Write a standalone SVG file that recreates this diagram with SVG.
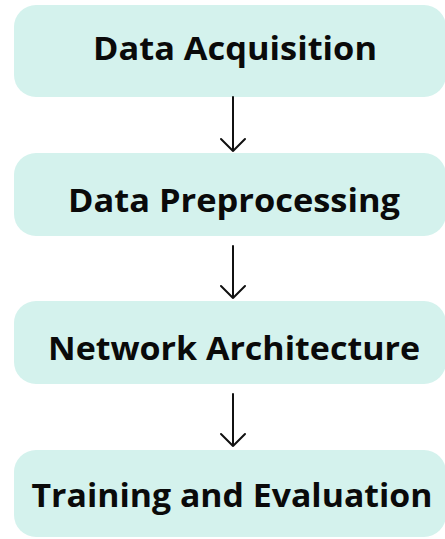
<svg xmlns="http://www.w3.org/2000/svg" width="445" height="539" viewBox="0 0 445 539">
<style>
.box{fill:#d4f2ed}
.lbl{font-family:"Open Sans","Liberation Sans",sans-serif;font-weight:700;font-size:32px;fill:#0a0a0a;text-anchor:middle}
.conn{stroke:#111;stroke-width:2;fill:none;stroke-linecap:round;stroke-linejoin:round}
</style>
<rect width="445" height="539" fill="#fff"/>
<g id="node1"><rect class="box" x="14" y="5" width="432" height="92" rx="22"/><text class="lbl" x="235" y="60" textLength="284" lengthAdjust="spacingAndGlyphs">Data Acquisition</text></g>
<g id="node2"><rect class="box" x="14" y="153" width="432" height="83" rx="22"/><text class="lbl" x="234" y="212" textLength="332" lengthAdjust="spacingAndGlyphs">Data Preprocessing</text></g>
<g id="node3"><rect class="box" x="14" y="301" width="432" height="83" rx="22"/><text class="lbl" x="234" y="360" textLength="372" lengthAdjust="spacingAndGlyphs">Network Architecture</text></g>
<g id="node4"><rect class="box" x="14" y="450" width="432" height="87" rx="22"/><text class="lbl" x="232" y="507" textLength="401" lengthAdjust="spacingAndGlyphs">Training and Evaluation</text></g>
<g id="connectors">
<path class="conn" d="M233 97V151M221 139L233 151L245 139"/>
<path class="conn" d="M233 246V298M221 286L233 298L245 286"/>
<path class="conn" d="M233 394V446M221 434L233 446L245 434"/>
</g>
</svg>
